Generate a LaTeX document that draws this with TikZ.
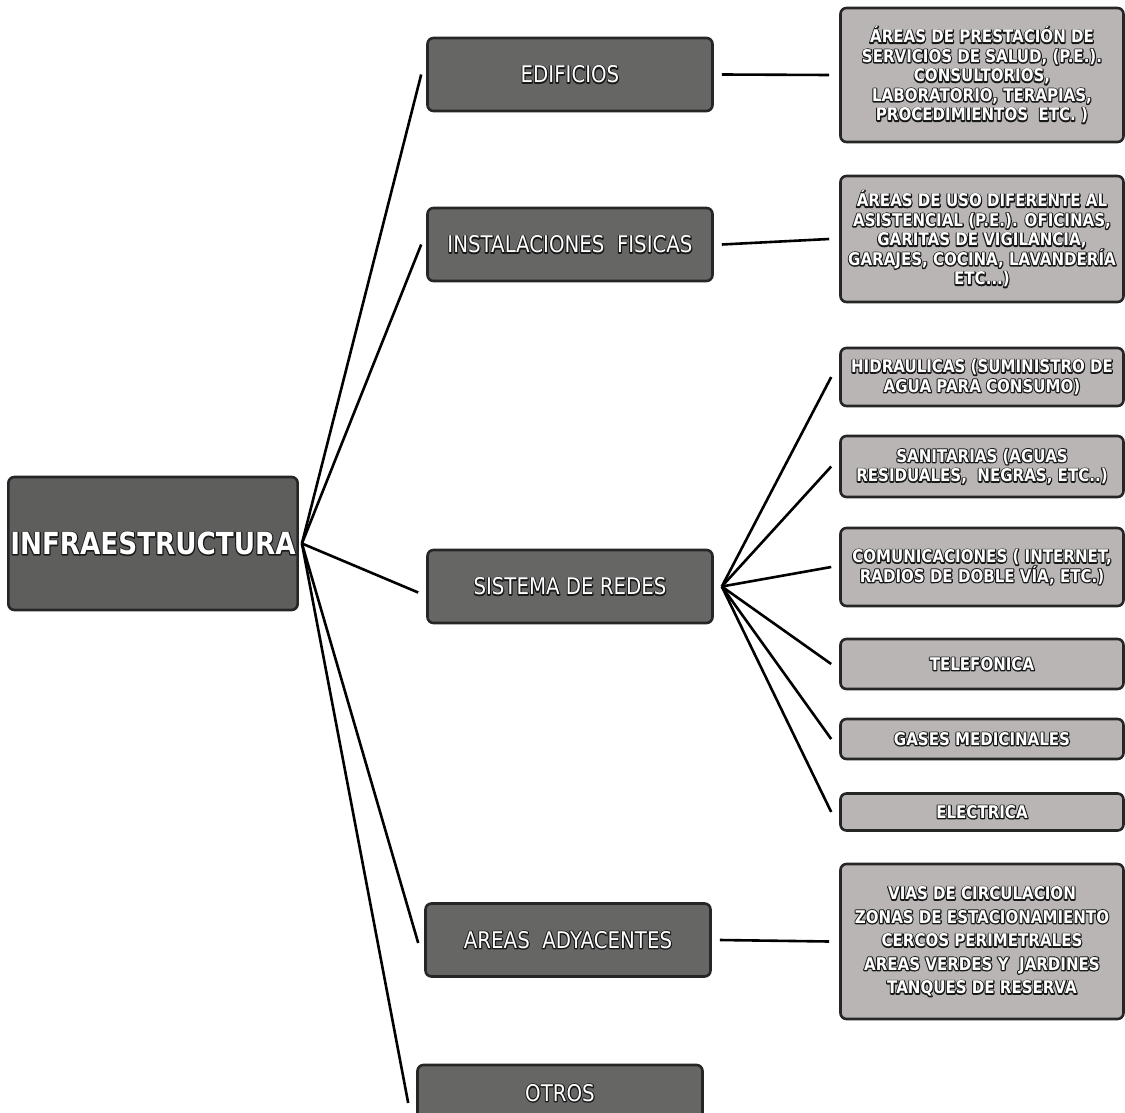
\documentclass[tikz,border=0pt]{standalone}
\usepackage{fontspec}
\setmainfont{DejaVu Sans}[FakeStretch=0.86]
% white text with a dark outline: a stroked-only copy under the filled text
\newcommand\wt[1]{\rlap{\special{pdf:literal direct 1 Tr 2.2 w 0.1 G 1 J 1 j}#1\special{pdf:literal direct 0 Tr}}#1}
\definecolor{darkbox}{HTML}{5E5E5C}
\definecolor{lightbox}{HTML}{B9B5B5}
\begin{document}
\begin{tikzpicture}[x=1pt,y=-1pt,
  base/.style={draw=black!85, line width=2.6pt, rounded corners=6pt, text=white, align=center, inner sep=2pt},
  mainbox/.style={base, fill=darkbox, minimum width=288pt, minimum height=133pt, font=\bfseries\fontsize{30.5}{34}\selectfont},
  midbox/.style={base, fill=darkbox!95!white, minimum width=285pt, minimum height=73pt, font=\fontsize{23}{26}\selectfont},
  rbox/.style={base, fill=lightbox, minimum width=283pt, font=\bfseries\fontsize{17.5}{19.5}\selectfont},
  link/.style={line width=2.6pt, black}
]
\clip (0,0) rectangle (1125,1113);
\fill[white] (0,0) rectangle (1125,1113);

\node[mainbox] (infra) at (153,543.5) {\wt{INFRAESTRUCTURA}};

\node[midbox] (edif) at (570,74.5) {\wt{EDIFICIOS}};
\node[midbox] (inst) at (570,244.5) {\wt{INSTALACIONES\ \ FISICAS}};
\node[midbox] (sist) at (570,586.5) {\wt{SISTEMA DE REDES}};
\node[midbox] (adya) at (568,940) {\wt{AREAS\ \ ADYACENTES}};
\node[midbox, minimum height=56pt] (otros) at (560,1093) {\wt{OTROS}};

\node[rbox, minimum height=134pt] (r1) at (982,75) {\wt{ÁREAS DE PRESTACIÓN DE}\\ \wt{SERVICIOS DE SALUD, (P.E.).}\\ \wt{CONSULTORIOS,}\\ \wt{LABORATORIO, TERAPIAS,}\\ \wt{PROCEDIMIENTOS\ \ ETC. )}};
\node[rbox, minimum height=126pt] (r2) at (982,239) {\wt{ÁREAS DE USO DIFERENTE AL}\\ \wt{ASISTENCIAL (P.E.). OFICINAS,}\\ \wt{GARITAS DE VIGILANCIA,}\\ \wt{GARAJES, COCINA, LAVANDERÍA}\\ \wt{ETC...)}};
\node[rbox, minimum height=58pt] (r3) at (982,377) {\wt{HIDRAULICAS (SUMINISTRO DE}\\ \wt{AGUA PARA CONSUMO)}};
\node[rbox, minimum height=61pt] (r4) at (982,466.5) {\wt{SANITARIAS (AGUAS}\\ \wt{RESIDUALES,\ \ NEGRAS, ETC..)}};
\node[rbox, minimum height=78pt] (r5) at (982,567) {\wt{COMUNICACIONES ( INTERNET,}\\ \wt{RADIOS DE DOBLE VÍA, ETC.)}};
\node[rbox, minimum height=50pt] (r6) at (982,664) {\wt{TELEFONICA}};
\node[rbox, minimum height=40pt] (r7) at (982,739) {\wt{GASES MEDICINALES}};
\node[rbox, minimum height=37pt] (r8) at (982,812) {\wt{ELECTRICA}};
\node[rbox, minimum height=155pt] (r9) at (982,941.5) {\wt{VIAS DE CIRCULACION}\\[4pt] \wt{ZONAS DE ESTACIONAMIENTO}\\[4pt] \wt{CERCOS PERIMETRALES}\\[4pt] \wt{AREAS VERDES Y\ \ JARDINES}\\[4pt] \wt{TANQUES DE RESERVA}};

% connectors from the root
\coordinate (hub) at ([xshift=3pt]infra.east);
\draw[link] (hub) -- ([xshift=-5pt]edif.west);
\draw[link] (hub) -- ([xshift=-5pt]inst.west);
\draw[link] (hub) -- ([xshift=-8pt,yshift=-6pt]sist.west);
\draw[link] (hub) -- ([xshift=-6pt,yshift=-3pt]adya.west);
\draw[link] (hub) -- ([xshift=-8pt,yshift=-10pt]otros.west);

% middle to right
\draw[link] ([xshift=8pt]edif.east) -- ([xshift=-10pt]r1.west);
\draw[link] ([xshift=8pt]inst.east) -- ([xshift=-10pt]r2.west);
\draw[link] ([xshift=8pt]adya.east) -- ([xshift=-10pt]r9.west);

% network fan
\coordinate (fan) at ([xshift=8pt]sist.east);
\foreach \r in {r3,r4,r5,r6,r7,r8}
  \draw[link] (fan) -- ([xshift=-8pt]\r.west);
\end{tikzpicture}
\end{document}
